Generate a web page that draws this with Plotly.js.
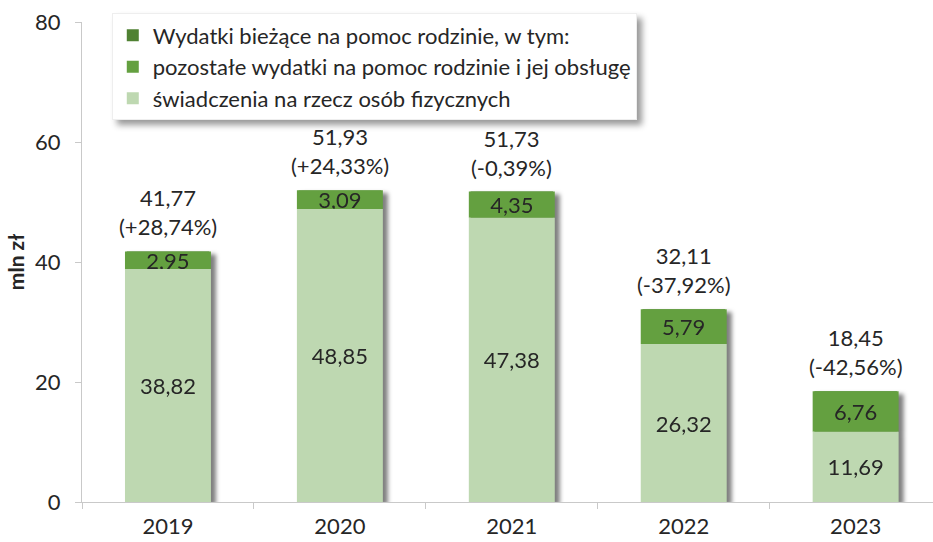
<!DOCTYPE html>
<html>
<head>
<meta charset="utf-8">
<script src="https://cdn.plot.ly/plotly-3.0.1.min.js"></script>
<style>
  body { margin: 0; background: #fff; }
  #chart { width: 933px; height: 542px; }
  .barlayer { filter: drop-shadow(5px 3px 2px rgba(0,0,0,0.5)); }
  .legend .bg { filter: drop-shadow(5px 5px 3px rgba(0,0,0,0.4)); }
</style>
</head>
<body>
<div id="chart"></div>
<script>
const years = ['2019', '2020', '2021', '2022', '2023'];
const swiadczenia = [38.82, 48.85, 47.38, 26.32, 11.69];
const pozostale = [2.95, 3.09, 4.35, 5.79, 6.76];
const totals = [41.77, 51.93, 51.73, 32.11, 18.45];
const changePct = [28.74, 24.33, -0.39, -37.92, -42.56];
const yTicks = [0, 20, 40, 60, 80];

const seriesNames = [
  'Wydatki bieżące na pomoc rodzinie, w tym:',
  'pozostałe wydatki na pomoc rodzinie i jej obsługę',
  'świadczenia na rzecz osób fizycznych'
];

const fmt = v => v.toFixed(2).replace('.', ',');
const fmtPct = v => '(' + (v > 0 ? '+' : '') + v.toFixed(2).replace('.', ',') + '%)';

const FONT = 'Lato, "Open Sans", sans-serif';
const TXT = '#262626';
const FS = 22;

const traces = [
  {
    type: 'bar', name: seriesNames[0], x: years, y: totals,
    marker: { color: '#4F8132' }, width: 0.48, hoverinfo: 'skip'
  },
  {
    type: 'bar', name: seriesNames[1], x: years, y: pozostale, base: swiadczenia,
    marker: { color: '#64A040' }, width: 0.5,
    text: pozostale.map(fmt), textposition: 'inside', insidetextanchor: 'middle',
    constraintext: 'none', textangle: 0,
    textfont: { family: FONT, size: FS, color: TXT }, hoverinfo: 'skip'
  },
  {
    type: 'bar', name: seriesNames[2], x: years, y: swiadczenia,
    marker: { color: '#BED8B1' }, width: 0.5,
    text: swiadczenia.map(fmt), textposition: 'inside', insidetextanchor: 'middle',
    constraintext: 'none', textangle: 0,
    textfont: { family: FONT, size: FS, color: TXT }, hoverinfo: 'skip'
  }
];

const annotations = years.map((yr, i) => ({
  x: i, y: totals[i], xref: 'x', yref: 'y',
  text: fmt(totals[i]) + '<br>' + fmtPct(changePct[i]),
  showarrow: false, yanchor: 'bottom', yshift: 9,
  font: { family: FONT, size: FS, color: TXT }
}));

const layout = {
  width: 933, height: 542,
  margin: { l: 82, r: 0, t: 22, b: 40 },
  paper_bgcolor: '#fff', plot_bgcolor: '#fff',
  barmode: 'overlay',
  font: { family: FONT, size: FS, color: TXT },
  showlegend: true,
  legend: {
    x: 0.035, y: 1.018, xanchor: 'left', yanchor: 'top',
    bgcolor: '#fff', bordercolor: '#EEEEEE', borderwidth: 1,
    font: { family: FONT, size: FS, color: TXT },
    traceorder: 'normal', itemclick: false, itemdoubleclick: false
  },
  xaxis: {
    type: 'category', range: [-0.5, 4.45],
    showline: true, linecolor: '#C9C9C9', linewidth: 1,
    ticks: 'outside', tickson: 'boundaries', ticklen: 6, tickcolor: '#C9C9C9',
    ticklabelstandoff: 5, showgrid: false, zeroline: false,
    tickfont: { family: FONT, size: FS, color: TXT }
  },
  yaxis: {
    range: [0, 80], tickvals: yTicks, ticktext: yTicks.map(String),
    showline: true, linecolor: '#C9C9C9', linewidth: 1,
    ticks: 'outside', ticklen: 6, tickcolor: '#C9C9C9',
    ticklabelstandoff: 10, showgrid: false, zeroline: false,
    tickfont: { family: FONT, size: FS, color: TXT },
    title: { text: '<b>mln zł</b>', standoff: 4, font: { family: FONT, size: 21, color: TXT } }
  },
  annotations: annotations
};

Plotly.newPlot('chart', traces, layout, { displayModeBar: false, staticPlot: true });
</script>
</body>
</html>
